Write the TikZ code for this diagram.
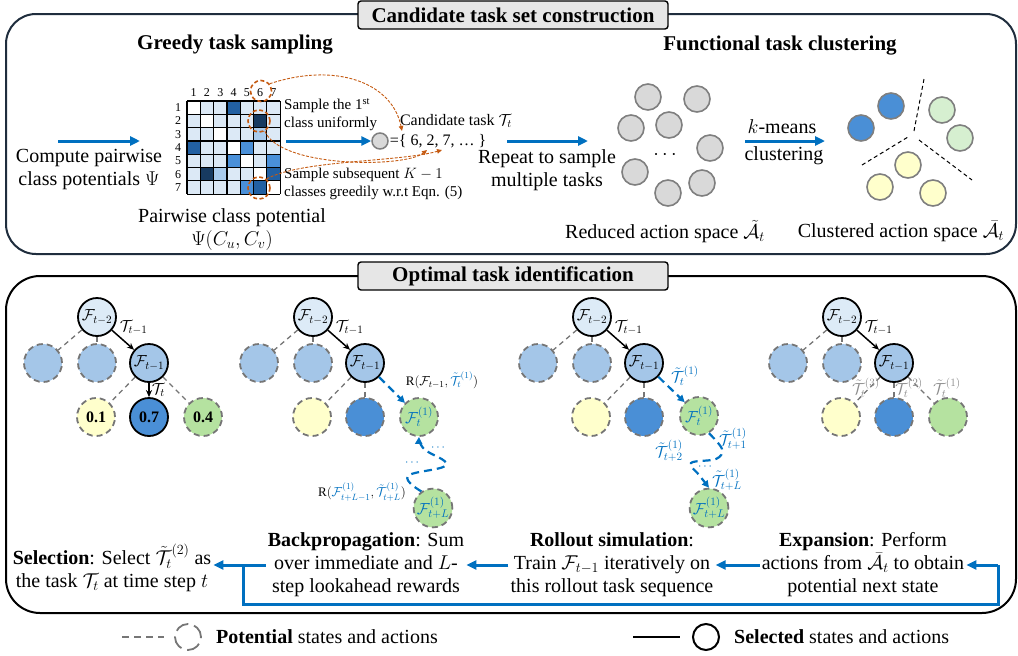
\RequirePackage{fix-cm}
\documentclass[tikz,border=0pt]{standalone}
\usepackage{fontspec}
\setmainfont{Liberation Serif}
\usetikzlibrary{arrows.meta}
\definecolor{navy}{HTML}{1F2D3D}
\definecolor{myblue}{HTML}{0070C0}
\definecolor{orng}{HTML}{C55A11}
\definecolor{potgray}{HTML}{767676}
\definecolor{cgray}{HTML}{D9D9D9}
\definecolor{cgrayb}{HTML}{7F7F7F}
\definecolor{rootc}{HTML}{DDEBF7}
\definecolor{lvtwo}{HTML}{A4C6E8}
\definecolor{yel}{HTML}{FFFFCC}
\definecolor{mblue}{HTML}{4A8FD6}
\definecolor{grn}{HTML}{B5E2A0}
\definecolor{grnlt}{HTML}{D6EFD0}
\definecolor{boxgray}{HTML}{E6E6E6}
\definecolor{lblgray}{HTML}{8C8C8C}
\definecolor{mxw}{HTML}{FFFFFF}
\definecolor{mxl}{HTML}{DCE9F6}
\definecolor{mxm}{HTML}{A9CBEC}
\definecolor{mxb}{HTML}{4A90D9}
\definecolor{mxd}{HTML}{2260A2}
\definecolor{mxn}{HTML}{173A60}
\newcommand\szL{\fontsize{20}{23}\selectfont}
\newcommand\szT{\fontsize{21}{25}\selectfont\bfseries}
\newcommand\szM{\fontsize{16}{19}\selectfont}
\newcommand\szS{\fontsize{15}{17.5}\selectfont}
\newcommand\szN{\fontsize{16}{18}\selectfont}
\newcommand\szR{\fontsize{13}{15}\selectfont}
\newcommand\szX{\fontsize{12}{14}\selectfont}
\newcommand\mktreetop[2]{%
  \node[selc, fill=rootc] (#1r) at (#2,317) {$\mathcal{F}_{t-2}$};
  \node[pot, fill=lvtwo] (#1a) at ({#2-54},363) {};
  \node[pot, fill=lvtwo] (#1b) at (#2,363) {};
  \node[selc, fill=lvtwo] (#1f) at ({#2+52},363) {$\mathcal{F}_{t-1}$};
  \draw[gdash] (#1r) -- (#1a);
  \draw[gdash] (#1r) -- (#1b);
  \draw[selarrow] (#1r) -- node[pos=0.3, anchor=south west, inner sep=0.5pt, font=\szN] (#1l) {$\mathcal{T}_{t-1}$} (#1f);
}
\begin{document}
\begin{tikzpicture}[x=1pt,y=-1pt,
  txt/.style={font=\szL, inner sep=1pt},
  cnode/.style={circle, minimum size=38pt, inner sep=0pt, font=\szN},
  pot/.style={cnode, draw=potgray, line width=1.8pt, dash pattern=on 6pt off 4pt},
  selc/.style={cnode, draw=black, line width=1.8pt},
  gc/.style={circle, minimum size=26pt, inner sep=0pt, fill=cgray, draw=cgrayb, line width=1.6pt},
  ocirc/.style={circle, inner sep=0pt, draw=orng, line width=1.6pt, dash pattern=on 4pt off 2.5pt},
  gdash/.style={draw=potgray, line width=1.3pt, dash pattern=on 5pt off 4pt},
  selarrow/.style={draw=black, line width=1.5pt, -{Stealth[length=7pt,width=6pt]}},
  bdash/.style={draw=myblue, line width=2.2pt, dash pattern=on 8pt off 5pt, -{Triangle[length=7pt,width=7pt]}},
  barrow/.style={draw=myblue, line width=3pt, -{Triangle[length=10pt,width=9pt]}},
  bline/.style={draw=myblue, line width=3pt},
  oarrow/.style={draw=orng, line width=0.9pt, dash pattern=on 3pt off 1.5pt, -{Triangle[length=5pt,width=4.5pt]}},
  titlebox/.style={draw=black, line width=1.4pt, fill=boxgray, rounded corners=3pt, minimum width=310pt, minimum height=28pt, inner sep=0pt, font=\szT},
  desc/.style={font=\szL, align=center, inner sep=2pt},
  kline/.style={draw=black, line width=1pt, dash pattern=on 4pt off 3pt},
  ]
\useasboundingbox (0,0) rectangle (1018,656);

% ---------- panels ----------
\draw[line width=2pt, draw=navy, rounded corners=30pt] (6,14) rectangle (1016,254);
\node[titlebox] (tt1) at (513,15) {Candidate task set construction};
\draw[line width=2pt, draw=black, rounded corners=34pt] (6,276) rectangle (1016,613);
\node[titlebox] (tt2) at (513,276) {Optimal task identification};

% ---------- top panel ----------
\node[font=\szT, inner sep=1pt] (h1) at (235,45) {Greedy task sampling};
\node[font=\szT, inner sep=1pt] (h2) at (780,46) {Functional task clustering};

\coordinate (a1s) at (58,141); \coordinate (a1e) at (140,141);
\draw[barrow] (a1s) -- (a1e);
\node[txt, align=center] (comp) at (89,170) {Compute pairwise\\class potentials $\Psi$};

% matrix
\foreach \row [count=\r] in {{mxw,mxl,mxl,mxd,mxl,mxl,mxl},{mxl,mxw,mxl,mxl,mxl,mxn,mxl},{mxl,mxl,mxw,mxl,mxl,mxm,mxl},{mxd,mxl,mxl,mxw,mxb,mxl,mxl},{mxl,mxl,mxl,mxb,mxw,mxl,mxb},{mxl,mxn,mxm,mxl,mxl,mxw,mxd},{mxl,mxl,mxl,mxl,mxb,mxd,mxw}}{
  \foreach \c [count=\k] in \row {
    \fill[fill=\c] ({187+(\k-1)*13.3},{101+(\r-1)*13.3}) rectangle ++(13.3,13.3);
  }
}
\foreach \i in {0,...,7}{
  \draw[line width=1.2pt] ({187+\i*13.3},101) -- ++(0,93.1);
  \draw[line width=1.2pt] (187,{101+\i*13.3}) -- ++(93.1,0);
}
\foreach \i in {1,...,7}{
  \node[font=\szX, inner sep=0pt] (rl\i) at (178,{101+(\i-0.5)*13.3}) {\i};
  \node[font=\szX, inner sep=0pt] (cl\i) at ({187+(\i-0.5)*13.3},93) {\i};
}
\node[txt, align=center] (pcp) at (232,230) {Pairwise class potential\\$\Psi(C_u,C_v)$};

\node[ocirc, minimum size=21pt] (oc1) at (261,91) {};
\node[ocirc, minimum size=22pt] (oc2) at (259,121) {};
\node[ocirc, minimum size=22pt] (oc3) at (259,188) {};

\node[font=\szS, inner sep=1pt, anchor=north west, align=left] (s1) at (283,97) {Sample the 1\textsuperscript{st}\\class uniformly};
\node[font=\szS, inner sep=1pt, anchor=north west, align=left] (s2) at (283,167) {Sample subsequent $K-1$\\classes greedily w.r.t Eqn. (5)};

\node[circle, draw=cgrayb, fill=cgray, line width=1.5pt, minimum size=16pt, inner sep=0pt] (cand) at (380,141) {};
\coordinate (a2s) at (286,141);
\draw[barrow] (a2s) -- (cand);
\node[font=\szM, anchor=west, inner sep=1pt] (setn) at (cand.east) {=\{ 6, 2, 7, … \}};
\node[font=\szM, inner sep=1pt] (candt) at (456,121) {Candidate task $\mathcal{T}_t$};

\coordinate (tp6) at (402,131); \coordinate (tp2) at (427,150); \coordinate (tp7) at (442,150);
\draw[oarrow] (oc1.40) .. controls (335,62) and (392,82) .. (tp6);
\draw[oarrow] (oc2.-60) .. controls (280,168) and (405,168) .. (tp2);
\draw[oarrow] (oc3.50) .. controls (300,160) and (400,162) .. (tp7);

\coordinate (a3s) at (507,141); \coordinate (a3e) at (588,141);
\draw[barrow] (a3s) -- (a3e);
\node[txt, align=center] (rep) at (547,170) {Repeat to sample\\multiple tasks};

\foreach \p [count=\i] in {(648,97),(697,99),(631,128),(669,125),(710,148),(635,172),(702,183),(668,193)}
  \node[gc] (g\i) at \p {};
\node[font=\szL] (gdots) at (665,155) {$\cdots$};

\coordinate (a4s) at (745,141); \coordinate (a4e) at (825,141);
\draw[barrow] (a4s) -- (a4e);
\node[txt] (km) at (782,127) {$k$-means};
\node[txt] (kc) at (784,156) {clustering};

\node[gc, fill=mblue] (k1) at (861,128) {};
\node[gc, fill=mblue] (k2) at (891,106) {};
\node[gc, fill=grnlt] (k3) at (942,110) {};
\node[gc, fill=grnlt] (k4) at (960,138) {};
\node[gc, fill=yel] (k5) at (908,165) {};
\node[gc, fill=yel] (k6) at (880,187) {};
\node[gc, fill=yel] (k7) at (933,193) {};
\draw[kline] (924,79) -- (914,131);
\draw[kline] (862,165) -- (908,137);
\draw[kline] (919,140) -- (972,180);

\node[txt] (ras) at (665,232) {Reduced action space $\tilde{\mathcal{A}}_t$};
\node[txt] (cas) at (901,232) {Clustered action space $\bar{\mathcal{A}}_t$};

% ---------- bottom panel: trees ----------
% tree 1
\mktreetop{ta}{97}
\node[pot, fill=yel, font=\szN\bfseries] (tay) at (96,417) {0.1};
\node[selc, fill=mblue, font=\szN\bfseries] (tam) at (149,417) {0.7};
\node[pot, fill=grn, font=\szN\bfseries] (tag) at (203,417) {0.4};
\draw[gdash] (taf) -- (tay);
\draw[gdash] (taf) -- (tag);
\draw[selarrow] (taf) -- node[right, inner sep=1pt, xshift=1pt, font=\szN] (tal2) {$\mathcal{T}_t$} (tam);

% tree 2
\mktreetop{tb}{313}
\node[pot, fill=yel] (tby) at (312,417) {};
\node[pot, fill=mblue] (tbm) at (365,417) {};
\node[pot, fill=grn, text=myblue] (tbg) at (419,417) {$\mathcal{F}_t^{(1)}$};
\node[pot, fill=grn, text=myblue] (tbL) at (433,508) {$\mathcal{F}_{t+L}^{(1)}$};
\draw[gdash] (tbf) -- (tby);
\draw[gdash] (tbf) -- (tbm);
\draw[bdash] (tbf) -- (tbg);
\node[font=\szR, inner sep=1pt] (tbR1) at (442,380) {R$(\mathcal{F}_{t-1},{\color{myblue}\tilde{\mathcal{T}}_t^{(1)}})$};
\draw[bdash] plot[smooth, tension=0.7] coordinates {(tbL.125) (408,476) (446,465) (424,449) (tbg.south)};
\node[font=\szX, text=myblue, inner sep=0pt] (tbd1) at (438,448) {$\cdots$};
\node[font=\szX, text=myblue, inner sep=0pt] (tbd2) at (412,463) {$\cdots$};
\node[font=\szR, inner sep=1pt, anchor=east] (tbR2) at (407,492) {R$({\color{myblue}\mathcal{F}^{(1)}_{t+L-1}},{\color{myblue}\tilde{\mathcal{T}}^{(1)}_{t+L}})$};

% tree 3
\mktreetop{tc}{592}
\node[pot, fill=yel] (tcy) at (591,417) {};
\node[pot, fill=mblue] (tcm) at (644,417) {};
\node[pot, fill=grn, text=myblue] (tcg) at (699,416) {$\mathcal{F}_t^{(1)}$};
\node[pot, fill=grn, text=myblue] (tcL) at (709,508) {$\mathcal{F}_{t+L}^{(1)}$};
\draw[gdash] (tcf) -- (tcy);
\draw[gdash] (tcf) -- (tcm);
\draw[bdash] (tcf) -- (tcg);
\node[font=\szN, text=myblue, inner sep=0pt] (tcl1) at (685,376) {$\tilde{\mathcal{T}}_t^{(1)}$};
\draw[bdash] plot[smooth, tension=0.6] coordinates {(tcg.-60) (722,449) (716,459) (691,463) (700,476) (tcL.north)};
\node[font=\szN, text=myblue, inner sep=0pt] (tcl2) at (733,439) {$\tilde{\mathcal{T}}_{t+1}^{(1)}$};
\node[font=\szN, text=myblue, inner sep=0pt] (tcl3) at (669,451) {$\tilde{\mathcal{T}}_{t+2}^{(1)}$};
\node[font=\szX, text=myblue, inner sep=0pt] (tcd) at (705,467) {$\cdots$};
\node[font=\szN, text=myblue, inner sep=0pt] (tcl4) at (727,480) {$\tilde{\mathcal{T}}_{t+L}^{(1)}$};

% tree 4
\mktreetop{td}{842}
\node[pot, fill=yel] (tdy) at (841,417) {};
\node[pot, fill=mblue] (tdm) at (894,417) {};
\node[pot, fill=grn] (tdg) at (948,417) {};
\draw[gdash] (tdf) -- (tdy);
\draw[gdash] (tdf) -- (tdm);
\draw[gdash] (tdf) -- (tdg);
\node[font=\szN, text=lblgray, inner sep=0pt] (tdl3) at (866,388) {$\tilde{\mathcal{T}}_t^{(3)}$};
\node[font=\szN, text=lblgray, inner sep=0pt] (tdl2) at (909,388) {$\tilde{\mathcal{T}}_t^{(2)}$};
\node[font=\szN, text=lblgray, inner sep=0pt] (tdl1) at (947,388) {$\tilde{\mathcal{T}}_t^{(1)}$};

% ---------- bottom descriptions ----------
\node[desc] (expn) at (863,565) {\textbf{Expansion}: Perform\\actions from $\bar{\mathcal{A}}_t$ to obtain\\potential next state};
\node[desc] (roll) at (612,565) {\textbf{Rollout simulation}:\\Train $\mathcal{F}_{t-1}$ iteratively on\\this rollout task sequence};
\node[desc] (back) at (366,565) {\textbf{Backpropagation}: Sum\\over immediate and $L$-\\step lookahead rewards};
\node[desc] (selt) at (112,568) {\textbf{Selection}: Select $\tilde{\mathcal{T}}_t^{(2)}$ as\\the task $\mathcal{T}_t$ at time step $t$};

\draw[barrow] (expn.west) -- (roll.east);
\draw[barrow] (roll.west) -- (back.east);
\draw[barrow] (back.west) -- (back.west -| selt.east);
\coordinate (lpR) at (998,565);
\coordinate (lpL) at (243,565);
\draw[barrow] (lpR) -- (expn.east);
\draw[bline] (lpR) -- ++(0,39) -| (lpL);

% ---------- legend ----------
\coordinate (lg1a) at (122,637); \coordinate (lg1b) at (164,637);
\draw[draw=potgray, line width=1.8pt, dash pattern=on 7pt off 5pt] (lg1a) -- (lg1b);
\node[circle, minimum size=26pt, inner sep=0pt, draw=potgray, line width=1.8pt, dash pattern=on 14pt off 6pt] (lgc1) at (188,637) {};
\node[txt, anchor=west] (lgt1) at (215,637) {\textbf{Potential} states and actions};
\coordinate (lg2a) at (633,637); \coordinate (lg2b) at (680,637);
\draw[line width=2pt] (lg2a) -- (lg2b);
\node[circle, minimum size=26pt, inner sep=0pt, draw=black, line width=2pt] (lgc2) at (706,637) {};
\node[txt, anchor=west] (lgt2) at (733,637) {\textbf{Selected} states and actions};
\end{tikzpicture}
\end{document}
